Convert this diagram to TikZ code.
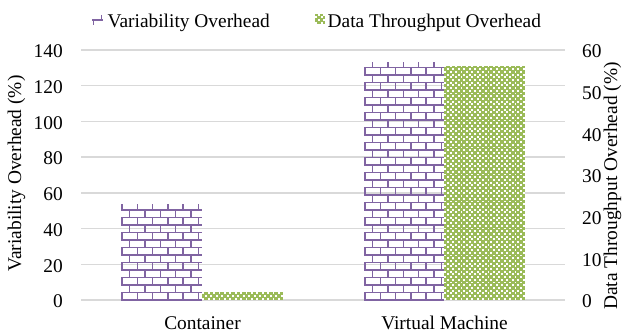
\documentclass[tikz,border=0pt]{standalone}
\usepackage{fontspec}
\setmainfont{Liberation Serif}
\newfontfamily\chartfont{Liberation Serif}
\definecolor{vpurple}{HTML}{8064A2}
\definecolor{tgreen}{HTML}{9BBB59}
\definecolor{gridgray}{HTML}{D9D9D9}

% brick-patterned bar: left x, right x, top y, bottom y
\newcommand{\brickbar}[4]{%
  \begin{scope}
    \clip (#1,#3) rectangle (#2,#4);
    \pgfmathtruncatemacro\nrows{ceil((#4-#3)/7.5)}
    \foreach \r in {0,...,\nrows}{%
      \pgfmathsetmacro\ya{#4-\r*7.5}
      \pgfmathsetmacro\yb{\ya-7.5}
      \pgfmathsetmacro\off{mod(\r,2)*7.65+1}
      \draw[brickh] (#1,\ya) -- (#2,\ya);
      \foreach \k in {0,...,6}{%
        \draw[brickv] ({#1+\off+\k*15.3},\ya) -- ({#1+\off+\k*15.3},\yb);
      }
    }
  \end{scope}}

% checker-patterned bar: left x, right x, top y, bottom y
\newcommand{\checkbar}[4]{%
  \begin{scope}
    \clip (#1,#3) rectangle (#2,#4);
    \fill[tgreen] (#1,#3) rectangle (#2,#4);
    \pgfmathtruncatemacro\nr{ceil((#4-#3)/2.7)}
    \pgfmathtruncatemacro\nc{ceil((#2-#1)/5.4)}
    \foreach \j in {0,...,\nr}{%
      \pgfmathsetmacro\yy{#4-\j*2.7}
      \pgfmathsetmacro\xo{#1+mod(\j,2)*2.7}
      \foreach \k in {0,...,\nc}{%
        \fill[white] ({\xo+\k*5.4+0.3},{\yy-0.3}) rectangle ++(1.9,-1.9);
      }
    }
  \end{scope}}

\begin{document}
\begin{tikzpicture}[x=1pt,y=-1pt,
  txt/.style={font=\chartfont\fontsize{19.4}{22}\selectfont, inner sep=0pt},
  gridline/.style={draw=gridgray, line width=1.3pt},
  brickh/.style={draw=vpurple, line width=1.9pt},
  brickv/.style={draw=vpurple, line width=1.5pt}]
\useasboundingbox[fill=white] (0,0) rectangle (631,336);

% horizontal grid and left tick labels (0..140)
\foreach \i/\lv in {0/0,1/20,2/40,3/60,4/80,5/100,6/120,7/140}{%
  \pgfmathsetmacro\gy{300-\i*35.714}
  \draw[gridline] (81,\gy) -- (565,\gy);
  \node[txt, anchor=east] (l\i) at (63,\gy+1.5) {\lv};
}
% right tick labels (0..60)
\foreach \i/\rv in {0/0,1/10,2/20,3/30,4/40,5/50,6/60}{%
  \pgfmathsetmacro\gy{300-\i*41.667}
  \node[txt, anchor=west] (r\i) at (582,\gy+1.5) {\rv};
}

% bars
\brickbar{121}{202}{205}{300}
\checkbar{202}{283}{292}{300}
\brickbar{364}{444}{63}{300}
\checkbar{444}{525}{66}{300}

% category labels
\node[txt, anchor=base] (cat1) at (202.5,329.5) {Container};
\node[txt, anchor=base] (cat2) at (444.5,329.5) {Virtual Machine};

% axis titles
\node[txt, rotate=90] (ytl) at (16.5,173.5) {Variability Overhead (\%)};
\node[txt, rotate=90] (ytr) at (612.5,186) {Data Throughput Overhead (\%)};

% legend
\draw[brickh, line width=1.3pt] (92,20) -- (103,20);
\draw[brickv, line width=1.2pt] (93.5,20) -- (93.5,25);
\draw[brickv, line width=1.2pt] (101.5,15) -- (101.5,20);
\node[txt, anchor=base west] (leg1) at (107.5,27.5) {Variability Overhead};
\checkbar{315}{325}{14}{24}
\node[txt, anchor=base west] (leg2) at (327.5,27.5) {Data Throughput Overhead};
\end{tikzpicture}
\end{document}
